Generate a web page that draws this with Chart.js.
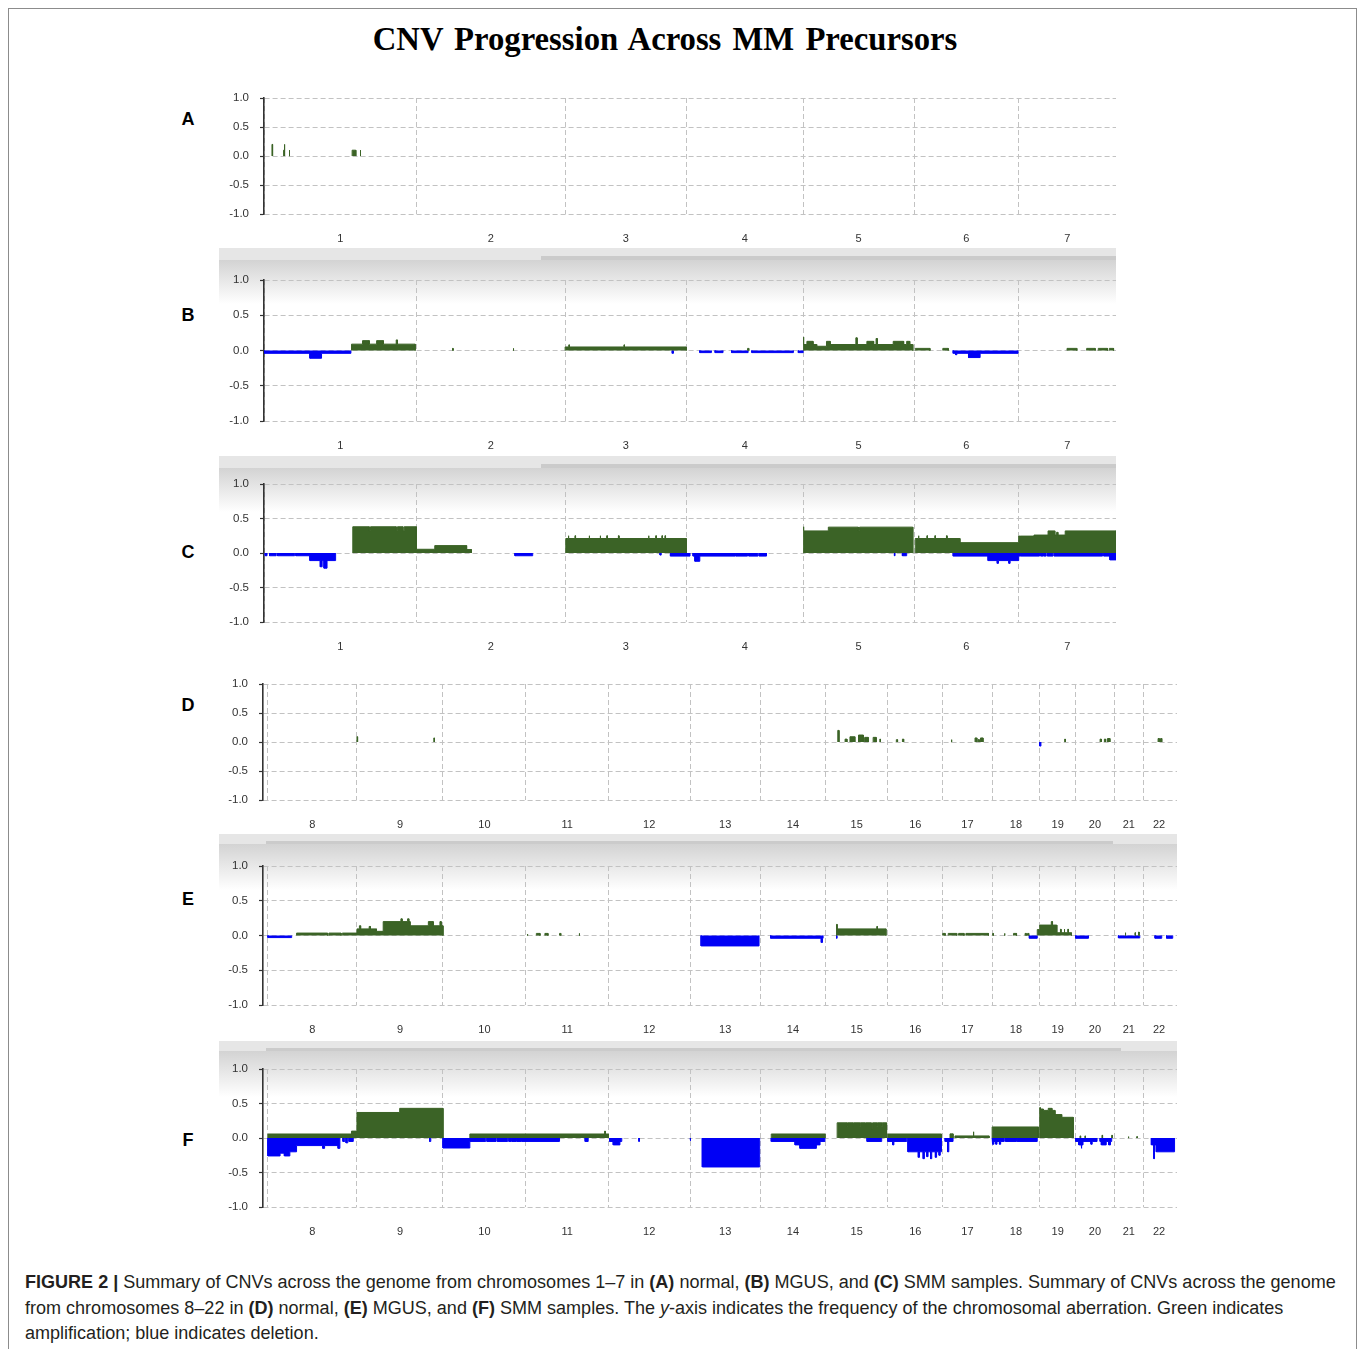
<!DOCTYPE html>
<html>
<head>
<meta charset="utf-8">
<script src="https://cdn.jsdelivr.net/npm/chart.js@4.4.0/dist/chart.umd.min.js"></script>
<style>
  html, body { margin: 0; padding: 0; background: #fff; }
  body { width: 1360px; height: 1349px; position: relative; overflow: hidden; font-family: "Liberation Sans", Arial, sans-serif; }
  .frame { position: absolute; left: 8px; top: 8px; width: 1347px; height: 1400px; border: 1px solid #8c8c8c; }
  .title { position: absolute; left: 0; width: 1330px; top: 21px; text-align: center; font-family: "Liberation Serif", "Times New Roman", serif; font-weight: bold; font-size: 32.7px; word-spacing: 3px; color: #000; }
  .letter { position: absolute; left: 176px; width: 24px; text-align: center; font-weight: bold; font-size: 18px; line-height: 20px; color: #000; }
  .band { position: absolute; }
  canvas { position: absolute; }
  .caption { position: absolute; left: 25px; top: 1270px; font-size: 18.05px; line-height: 25.5px; color: #231f20; white-space: nowrap; }
</style>
</head>
<body>
<div class="frame"></div>
<div class="title">CNV Progression Across MM Precursors</div>

<!-- window-style header bands between panels -->
<div class="band" style="left:219px;top:248px;width:897px;height:12px;background:#e6e6e6"></div>
<div class="band" style="left:541px;top:256px;width:575px;height:4px;background:#cbcbcb"></div>
<div class="band" style="left:219px;top:260px;width:897px;height:44px;background:linear-gradient(#d3d3d3,rgba(255,255,255,0))"></div>

<div class="band" style="left:219px;top:456px;width:897px;height:12px;background:#e6e6e6"></div>
<div class="band" style="left:541px;top:464px;width:575px;height:4px;background:#cbcbcb"></div>
<div class="band" style="left:219px;top:468px;width:897px;height:44px;background:linear-gradient(#d3d3d3,rgba(255,255,255,0))"></div>

<div class="band" style="left:219px;top:834px;width:958px;height:10px;background:#e6e6e6"></div>
<div class="band" style="left:266px;top:841px;width:847px;height:3px;background:#cbcbcb"></div>
<div class="band" style="left:219px;top:844px;width:958px;height:46px;background:linear-gradient(#d3d3d3,rgba(255,255,255,0))"></div>

<div class="band" style="left:219px;top:1041px;width:958px;height:10px;background:#e6e6e6"></div>
<div class="band" style="left:266px;top:1048px;width:855px;height:3px;background:#cbcbcb"></div>
<div class="band" style="left:219px;top:1051px;width:958px;height:46px;background:linear-gradient(#d3d3d3,rgba(255,255,255,0))"></div>

<div class="letter" style="top:109px">A</div>
<div class="letter" style="top:305px">B</div>
<div class="letter" style="top:542px">C</div>
<div class="letter" style="top:695px">D</div>
<div class="letter" style="top:889px">E</div>
<div class="letter" style="top:1130px">F</div>

<canvas id="cnv-a"></canvas>
<canvas id="cnv-b"></canvas>
<canvas id="cnv-c"></canvas>
<canvas id="cnv-d"></canvas>
<canvas id="cnv-e"></canvas>
<canvas id="cnv-f"></canvas>

<div class="caption"><b>FIGURE 2 |</b> Summary of CNVs across the genome from chromosomes 1–7 in <b>(A)</b> normal, <b>(B)</b> MGUS, and <b>(C)</b> SMM samples. Summary of CNVs across the genome<br>from chromosomes 8–22 in <b>(D)</b> normal, <b>(E)</b> MGUS, and <b>(F)</b> SMM samples. The <i>y</i>-axis indicates the frequency of the chromosomal aberration. Green indicates<br>amplification; blue indicates deletion.</div>

<script>
// CNV frequency panels. Segments are [chromosome, start Mb, end Mb, frequency];
// later segments in a list override earlier ones where they overlap.

const CHROM_SIZES_MB = [249, 243, 198, 191, 181, 171, 159, 146, 141, 136, 135, 134,
                        115, 107, 102, 90, 81, 78, 59, 63, 48, 51];
const TOP_CHROMS    = [1, 2, 3, 4, 5, 6, 7];
const BOTTOM_CHROMS = [8, 9, 10, 11, 12, 13, 14, 15, 16, 17, 18, 19, 20, 21, 22];
const Y_TICKS = [-1, -0.5, 0, 0.5, 1];

const GAIN_COLOR = '#3b6326';
const LOSS_COLOR = '#0000f5';

// ── (A) normal, chr 1–7 ─────────────────────────────────────────────────────
const gainsA = [
  [1, 13, 14, 0.2], [1, 32, 33, 0.1], [1, 33, 34, 0.2], [1, 41, 42, 0.1],
  [1, 144, 150, 0.1], [1, 157, 158, 0.1]
];
const lossesA = [];

// ── (B) MGUS, chr 1–7 ───────────────────────────────────────────────────────
const gainsB = [
  [1, 143, 247, 0.09], [1, 161, 172, 0.14], [1, 184, 195, 0.14], [1, 216, 218, 0.15],
  [2, 59, 60, 0.03], [2, 158, 159, 0.03],
  [3, 0, 198, 0.05], [3, 6, 7, 0.08], [3, 96, 97, 0.08],
  [4, 100, 102, 0.03],
  [5, 0, 22, 0.085], [5, 22, 38, 0.06], [5, 38, 179, 0.085], [5, 0, 1, 0.19],
  [5, 6, 16, 0.13], [5, 38, 44, 0.13], [5, 86, 88, 0.18], [5, 104, 115, 0.13],
  [5, 119, 121, 0.17], [5, 147, 164, 0.13], [5, 169, 174, 0.13],
  [6, 2, 26, 0.03], [6, 47, 56, 0.03],
  [7, 79, 95, 0.03], [7, 111, 125, 0.03], [7, 130, 145, 0.03], [7, 148, 155, 0.03]
];
const lossesB = [
  [1, 0, 142, -0.04], [1, 75, 94, -0.11],
  [3, 175, 177, -0.04],
  [4, 22, 41, -0.03], [4, 47, 60, -0.03], [4, 74, 101, -0.03], [4, 107, 175, -0.03], [4, 183, 191, -0.03],
  [6, 64, 170, -0.04], [6, 68, 70, -0.06], [6, 89, 108, -0.1]
];

// ── (C) SMM, chr 1–7 ────────────────────────────────────────────────────────
const gainsC = [
  [1, 145, 249, 0.38], [1, 172, 174, 0.32], [1, 216, 218, 0.32], [1, 227, 229, 0.32],
  [2, 0, 30, 0.054], [2, 30, 82, 0.107], [2, 82, 90, 0.05],
  [3, 1, 198, 0.21], [3, 5, 6, 0.25], [3, 16, 17, 0.25], [3, 39, 40, 0.25], [3, 57, 58, 0.25],
  [3, 68, 69, 0.25], [3, 87, 88, 0.25], [3, 136, 137, 0.25], [3, 148, 149, 0.25], [3, 158, 159, 0.25],
  [3, 163, 164, 0.25],
  [5, 0, 41, 0.32], [5, 41, 179, 0.375], [5, 90, 92, 0.32], [5, 0, 1, 0.38],
  [6, 2, 75, 0.21], [6, 75, 174, 0.15], [6, 7, 8, 0.25], [6, 21, 22, 0.25], [6, 34, 35, 0.25], [6, 53, 54, 0.25],
  [7, 0, 25, 0.245], [7, 25, 48, 0.26], [7, 48, 59, 0.32], [7, 59, 76, 0.26], [7, 62, 64, 0.3], [7, 76, 159, 0.32]
];
const lossesC = [
  [1, 2, 5, -0.04], [1, 9, 20, -0.04], [1, 22, 50, -0.04], [1, 52, 75, -0.04], [1, 75, 117, -0.11],
  [1, 92, 95, -0.2], [1, 98, 103, -0.22],
  [2, 161, 190, -0.04],
  [3, 155, 157, -0.03], [3, 172, 198, -0.045],
  [4, 0, 6, -0.045], [4, 11, 80, -0.045], [4, 14, 22, -0.12], [4, 81, 100, -0.045], [4, 102, 117, -0.045],
  [4, 119, 131, -0.045],
  [5, 149, 150, -0.04], [5, 162, 169, -0.04],
  [6, 64, 174, -0.045], [6, 121, 174, -0.11], [6, 136, 138, -0.15], [6, 155, 157, -0.15],
  [7, 0, 34, -0.045], [7, 36, 40, -0.045], [7, 41, 45, -0.045], [7, 47, 56, -0.045], [7, 58, 137, -0.045],
  [7, 139, 159, -0.045], [7, 149, 159, -0.1]
];

// ── (D) normal, chr 8–22 ────────────────────────────────────────────────────
const gainsD = [
  [9, 0, 1, 0.09], [9, 126, 127, 0.07],
  [15, 20, 22, 0.2], [15, 32, 35, 0.05], [15, 40, 48, 0.09], [15, 54, 62, 0.12], [15, 64, 70, 0.08],
  [15, 78, 83, 0.08], [15, 89, 90, 0.05],
  [16, 14, 16, 0.04], [16, 24, 26, 0.05],
  [17, 14, 15, 0.04], [17, 53, 56, 0.07], [17, 58, 60, 0.04], [17, 62, 66, 0.07],
  [19, 41, 42, 0.05],
  [20, 40, 42, 0.05], [20, 47, 49, 0.05], [20, 52, 56, 0.06],
  [22, 24, 26, 0.06], [22, 28, 30, 0.06]
];
const lossesD = [
  [19, 0, 2, -0.07]
];

// ── (E) MGUS, chr 8–22 ──────────────────────────────────────────────────────
const gainsE = [
  [8, 47, 98, 0.035], [8, 100, 120, 0.035], [8, 122, 146, 0.035],
  [9, 0, 32, 0.095], [9, 4, 6, 0.14], [9, 20, 22, 0.13], [9, 32, 43, 0.06], [9, 43, 87, 0.2],
  [9, 72, 74, 0.24], [9, 83, 85, 0.24], [9, 87, 117, 0.14], [9, 117, 125, 0.2], [9, 125, 141, 0.14],
  [9, 136, 138, 0.2],
  [11, 2, 3, 0.02], [11, 17, 23, 0.03], [11, 31, 36, 0.03], [11, 55, 57, 0.03], [11, 87, 88, 0.03],
  [15, 18, 99, 0.095], [15, 18, 19, 0.16], [15, 84, 85, 0.13],
  [17, 0, 4, 0.03], [17, 9, 23, 0.03], [17, 26, 35, 0.03], [17, 38, 75, 0.03],
  [18, 1, 2, 0.03], [18, 20, 21, 0.03], [18, 35, 40, 0.03], [18, 54, 56, 0.03], [18, 58, 60, 0.03],
  [18, 74, 78, 0.085],
  [19, 0, 28, 0.15], [19, 19, 21, 0.2], [19, 28, 52, 0.04], [19, 34, 35, 0.09], [19, 40, 41, 0.09],
  [19, 46, 47, 0.09],
  [21, 18, 19, 0.04], [21, 34, 35, 0.04], [21, 40, 41, 0.05]
];
const lossesE = [
  [8, 0, 39, -0.03],
  [13, 18, 113, -0.15],
  [14, 17, 103, -0.04], [14, 100, 102, -0.1],
  [15, 18, 19, -0.04],
  [18, 61, 74, -0.04],
  [20, 0, 21, -0.04],
  [21, 7, 42, -0.035],
  [22, 19, 30, -0.04], [22, 38, 48, -0.04]
];

// ── (F) SMM, chr 8–22 ───────────────────────────────────────────────────────
const gainsF = [
  [8, 0, 137, 0.058], [8, 137, 146, 0.1],
  [9, 0, 70, 0.37], [9, 70, 141, 0.43],
  [10, 44, 136, 0.058], [11, 0, 135, 0.058], [11, 129, 130, 0.1],
  [14, 18, 106, 0.058],
  [15, 19, 100, 0.22], [15, 35, 36, 0.17], [15, 45, 46, 0.17], [15, 56, 57, 0.17], [15, 65, 66, 0.17],
  [15, 75, 77, 0.13], [15, 84, 85, 0.17], [15, 92, 93, 0.17],
  [16, 0, 88, 0.058],
  [17, 12, 17, 0.06], [17, 20, 76, 0.03], [17, 50, 51, 0.09],
  [18, 0, 76, 0.16],
  [19, 0, 6, 0.42], [19, 6, 25, 0.4], [19, 25, 36, 0.34], [19, 36, 55, 0.3], [19, 0, 1, 0.44], [19, 14, 20, 0.43],
  [20, 7, 8, 0.03], [20, 15, 16, 0.03], [20, 43, 44, 0.04], [20, 59, 60, 0.04],
  [21, 23, 24, 0.02], [21, 37, 38, 0.02]
];
const lossesF = [
  [8, 0, 20, -0.26], [8, 20, 27, -0.22], [8, 27, 36, -0.26], [8, 36, 47, -0.2], [8, 47, 118, -0.11],
  [8, 90, 93, -0.15], [8, 115, 118, -0.15], [8, 123, 126, -0.05], [8, 128, 131, -0.07], [8, 133, 140, -0.05],
  [9, 119, 121, -0.05],
  [10, 0, 44, -0.145], [10, 44, 70, -0.05], [10, 72, 87, -0.05], [10, 89, 106, -0.05], [10, 108, 112, -0.05],
  [10, 113, 120, -0.05], [10, 121, 128, -0.05], [10, 129, 136, -0.05],
  [11, 0, 55, -0.05], [11, 97, 102, -0.05],
  [12, 2, 22, -0.05], [12, 8, 19, -0.1], [12, 50, 51, -0.05],
  [13, 0, 1, -0.04], [13, 20, 114, -0.42],
  [14, 18, 106, -0.05], [14, 57, 65, -0.1], [14, 65, 92, -0.15], [14, 92, 98, -0.1],
  [15, 68, 92, -0.05],
  [16, 0, 31, -0.05], [16, 8, 10, -0.1], [16, 33, 88, -0.2], [16, 50, 52, -0.28], [16, 58, 60, -0.3],
  [16, 64, 66, -0.27], [16, 70, 72, -0.3], [16, 78, 80, -0.28], [16, 84, 86, -0.25],
  [17, 4, 17, -0.05], [17, 8, 10, -0.2],
  [18, 0, 20, -0.05], [18, 1, 3, -0.09], [18, 6, 8, -0.09], [18, 12, 14, -0.09], [18, 22, 40, -0.05],
  [18, 41, 74, -0.05],
  [20, 0, 35, -0.05], [20, 5, 12, -0.1], [20, 9, 10, -0.15], [20, 25, 27, -0.09],
  [20, 40, 59, -0.05], [20, 42, 50, -0.1], [20, 54, 57, -0.1],
  [22, 13, 21, -0.1], [22, 17, 18, -0.3], [22, 21, 51, -0.2]
];

// ── Helpers ─────────────────────────────────────────────────────────────────

function chromOffsets(chroms) {
  const off = {};
  let acc = 0;
  chroms.forEach(c => { off[c] = acc; acc += CHROM_SIZES_MB[c - 1]; });
  return { off, total: acc };
}

// Step outline of a segment list, as line points; null breaks separate blocks.
function buildProfile(segs, off) {
  const abs = segs.map(([c, s, e, v]) => [off[c] + s, off[c] + e, v]);
  const edges = [...new Set(abs.flatMap(([s, e]) => [s, e]))].sort((a, b) => a - b);
  const pts = [];
  let open = false;
  for (let i = 0; i < edges.length - 1; i++) {
    const a = edges[i], b = edges[i + 1], m = (a + b) / 2;
    let v = 0;
    abs.forEach(([s, e, val]) => { if (s <= m && m < e) v = val; });
    if (v === 0) {
      if (open) { pts.push({ x: a, y: 0 }, { x: a, y: null }); open = false; }
      continue;
    }
    if (!open) { pts.push({ x: a, y: 0 }); open = true; }
    pts.push({ x: a, y: v }, { x: b, y: v });
  }
  if (open) pts.push({ x: edges[edges.length - 1], y: 0 });
  return pts;
}

function blockDataset(points, color) {
  return {
    data: points,
    borderColor: color,
    backgroundColor: color,
    borderWidth: 1,
    fill: 'origin',
    spanGaps: false,
    pointRadius: 0,
    tension: 0
  };
}

// scales reserve label overhang as padding; the panel frame is fixed instead
function noOverhang(s) {
  s.paddingLeft = 0;
  s.paddingRight = 0;
  s.paddingTop = 0;
  s.paddingBottom = 0;
}

// ── Panels ──────────────────────────────────────────────────────────────────

function drawPanel(id, chroms, gains, losses, lay) {
  const { off, total } = chromOffsets(chroms);
  const bounds = chroms.map(c => off[c]);
  const mids = chroms.map(c => off[c] + CHROM_SIZES_MB[c - 1] / 2);
  const midLabel = new Map(chroms.map((c, i) => [mids[i], String(c)]));
  const boundSet = new Set(bounds);
  const tickVals = [...bounds, ...mids].sort((a, b) => a - b);

  const canvas = document.getElementById(id);
  const H = 8 + lay.area + 34;
  canvas.width = lay.width;
  canvas.height = H;
  canvas.style.left = lay.left + 'px';
  canvas.style.top = lay.top + 'px';
  canvas.style.width = lay.width + 'px';
  canvas.style.height = H + 'px';

  new Chart(canvas.getContext('2d'), {
    type: 'line',
    data: {
      datasets: [
        blockDataset(buildProfile(gains, off), GAIN_COLOR),
        blockDataset(buildProfile(losses, off), LOSS_COLOR)
      ]
    },
    options: {
      responsive: false,
      animation: false,
      events: [],
      layout: { padding: { top: 8, right: 0, bottom: 0, left: 0 } },
      plugins: { legend: { display: false }, tooltip: { enabled: false } },
      scales: {
        x: {
          type: 'linear',
          min: lay.xMin,
          max: total + lay.xPadR,
          afterBuildTicks: s => { s.ticks = tickVals.map(v => ({ value: v })); },
          afterFit: s => { s.height = 34; noOverhang(s); },
          ticks: {
            autoSkip: false,
            maxRotation: 0,
            padding: 18,
            color: '#333',
            font: { family: 'Liberation Sans', size: 11 },
            callback: v => midLabel.get(v) || ''
          },
          grid: {
            drawTicks: false,
            lineWidth: 1,
            color: c => (c.tick && boundSet.has(c.tick.value)) ? '#c2c2c2' : 'rgba(0,0,0,0)'
          },
          border: { display: false, dash: [5, 3] }
        },
        y: {
          min: -1,
          max: 1,
          afterBuildTicks: s => { s.ticks = Y_TICKS.map(v => ({ value: v })); },
          afterFit: s => { s.width = lay.yw; noOverhang(s); },
          ticks: {
            padding: 11,
            color: '#333',
            font: { family: 'Liberation Sans', size: 11.5 },
            callback: v => v.toFixed(1)
          },
          grid: { color: '#c2c2c2', tickColor: '#333', tickLength: 4, tickWidth: 1.2 },
          border: { display: true, color: '#333', width: 1.6, dash: [5, 3] }
        }
      }
    }
  });
}

const TOP_LAYOUT = { left: 190, width: 926, yw: 74, xMin: 0, xPadR: 0 };
const BOT_LAYOUT = { left: 190, width: 987, yw: 73, xMin: -8, xPadR: 4 };

drawPanel('cnv-a', TOP_CHROMS, gainsA, lossesA, { ...TOP_LAYOUT, top: 90, area: 116 });
drawPanel('cnv-b', TOP_CHROMS, gainsB, lossesB, { ...TOP_LAYOUT, top: 272, area: 141 });
drawPanel('cnv-c', TOP_CHROMS, gainsC, lossesC, { ...TOP_LAYOUT, top: 476, area: 138 });
drawPanel('cnv-d', BOTTOM_CHROMS, gainsD, lossesD, { ...BOT_LAYOUT, top: 676, area: 116 });
drawPanel('cnv-e', BOTTOM_CHROMS, gainsE, lossesE, { ...BOT_LAYOUT, top: 858, area: 139 });
drawPanel('cnv-f', BOTTOM_CHROMS, gainsF, lossesF, { ...BOT_LAYOUT, top: 1061, area: 138 });
</script>
</body>
</html>
